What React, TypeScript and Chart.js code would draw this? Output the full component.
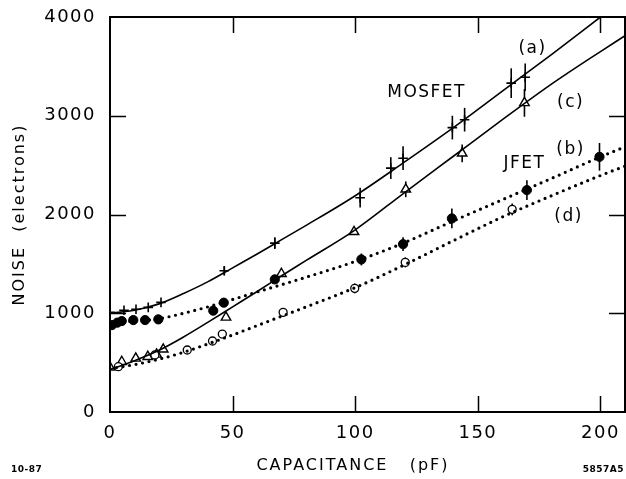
import React, { useEffect, useRef } from 'react';
import { Chart, registerables } from 'chart.js';

Chart.register(...registerables);

// Axis ticks
const X_TICKS = [0, 50, 100, 150, 200];
const Y_TICKS = [0, 1000, 2000, 3000, 4000];

// (a) MOSFET measured points (crosses)
const A_CAP = [0, 5.7, 10.6, 15.6, 20.8, 46.6, 67.2, 102, 114.5, 119.5, 139.6, 144.6, 163.6, 169.3];
const A_NOISE = [1010, 1030, 1040, 1060, 1110, 1430, 1710, 2170, 2470, 2570, 2880, 2960, 3330, 3390];
const A_ERR = [0, 0, 0, 0, 0, 45, 60, 100, 110, 120, 120, 120, 150, 140];

// (c) MOSFET measured points (open triangles)
const C_CAP = [0, 4.8, 10.5, 15.4, 19, 21.7, 47.3, 69.9, 99.5, 120.6, 143.6, 169];
const C_NOISE = [452, 509, 543, 560, 584, 635, 958, 1400, 1825, 2255, 2620, 3130];
const C_ERR = [0, 0, 0, 0, 0, 0, 0, 0, 0, 80, 90, 140];

// (b) JFET measured points (filled circles)
const B_CAP = [0.8, 3, 4.8, 9.5, 14.3, 19.7, 42.1, 46.4, 67.2, 102.5, 119.5, 139.4, 170, 199.6];
const B_NOISE = [880, 905, 921, 931, 931, 938, 1026, 1107, 1343, 1545, 1700, 1960, 2247, 2584];
const B_ERR = [0, 0, 0, 0, 0, 0, 0, 0, 0, 60, 70, 100, 100, 140];

// (d) JFET measured points (open circles)
const D_CAP = [3.4, 18.3, 31.5, 41.8, 45.8, 70.6, 99.8, 120.4, 164];
const D_NOISE = [459, 577, 628, 719, 789, 1009, 1252, 1515, 2052];
const D_ERR = [0, 0, 0, 0, 0, 0, 50, 50, 60];

// Fitted curves
const FIT_CAP = [0, 10, 20, 30, 40, 50, 60, 70, 80, 100, 120, 140, 160, 180, 200, 210];
const FIT_A = [1000, 1030, 1095, 1200, 1320, 1460, 1600, 1745, 1890, 2190, 2530, 2880, 3250, 3620, 4000, 4190];
const FIT_C = [430, 520, 625, 760, 910, 1065, 1220, 1380, 1535, 1845, 2220, 2590, 2960, 3320, 3650, 3810];
const FIT_B = [910, 920, 945, 1000, 1065, 1140, 1215, 1290, 1365, 1525, 1715, 1935, 2150, 2365, 2584, 2685];
const FIT_D = [440, 480, 535, 605, 690, 780, 875, 970, 1065, 1260, 1490, 1735, 1975, 2190, 2395, 2490];

// Curve labels (text, capacitance, noise)
const LABEL_TEXT = ['(a)', 'MOSFET', '(c)', '(b)', 'JFET', '(d)'];
const LABEL_CAP = [172.3, 129.1, 187.8, 187.8, 169, 187];
const LABEL_NOISE = [3684, 3239, 3138, 2662, 2520, 1984];

const X_TITLE = 'CAPACITANCE   (pF)';
const Y_TITLE = 'NOISE  (electrons)';
const NOTE_LEFT = '10-87';
const NOTE_RIGHT = '5857A5';

const FONT = '"DejaVu Sans", sans-serif';

const zip = (xs: number[], ys: number[]) => xs.map((x, i) => ({ x, y: ys[i] }));

const errorBarPlugin = {
  id: 'errorBars',
  beforeDatasetsDraw(chart: any) {
    const { ctx } = chart;
    const yScale = chart.scales.y;
    ctx.save();
    ctx.strokeStyle = '#000';
    ctx.lineWidth = 1.6;
    chart.data.datasets.forEach((ds: any, di: number) => {
      if (!ds.errors) return;
      const meta = chart.getDatasetMeta(di);
      meta.data.forEach((pt: any, i: number) => {
        const e = ds.errors[i];
        if (!e) return;
        const v = ds.data[i].y;
        const y1 = yScale.getPixelForValue(v + e);
        const y2 = yScale.getPixelForValue(v - e);
        ctx.beginPath();
        ctx.moveTo(pt.x, y1);
        ctx.lineTo(pt.x, y2);
        ctx.stroke();
      });
    });
    ctx.restore();
  },
};

const framePlugin = {
  id: 'frame',
  beforeDraw(chart: any) {
    chart.ctx.letterSpacing = '1.5px';
  },
  afterDraw(chart: any) {
    const { ctx, chartArea, scales } = chart;
    const { left, right, top, bottom } = chartArea;
    const xs = scales.x;
    const ys = scales.y;
    ctx.save();
    ctx.strokeStyle = '#000';
    ctx.lineWidth = 2;
    ctx.strokeRect(left, top, right - left, bottom - top);
    ctx.lineWidth = 1.5;
    const TL = 16;
    X_TICKS.forEach((v) => {
      if (v === 0) return;
      const px = Math.round(xs.getPixelForValue(v)) + 0.5;
      ctx.beginPath();
      ctx.moveTo(px, bottom);
      ctx.lineTo(px, bottom - TL);
      ctx.moveTo(px, top);
      ctx.lineTo(px, top + TL);
      ctx.stroke();
    });
    Y_TICKS.forEach((v) => {
      if (v === 0 || v === 4000) return;
      const py = Math.round(ys.getPixelForValue(v)) + 0.5;
      ctx.beginPath();
      ctx.moveTo(left, py);
      ctx.lineTo(left + TL, py);
      ctx.moveTo(right, py);
      ctx.lineTo(right - TL, py);
      ctx.stroke();
    });

    ctx.fillStyle = '#000';
    ctx.textAlign = 'center';
    ctx.textBaseline = 'middle';
    ctx.letterSpacing = '1.5px';
    ctx.font = `17px ${FONT}`;
    LABEL_TEXT.forEach((t, i) => {
      ctx.fillText(t, xs.getPixelForValue(LABEL_CAP[i]), ys.getPixelForValue(LABEL_NOISE[i]));
    });

    // axis titles
    ctx.letterSpacing = '2px';
    ctx.font = `16px ${FONT}`;
    ctx.fillText(X_TITLE, 353, 466);
    ctx.save();
    ctx.translate(20, (top + bottom) / 2);
    ctx.rotate(-Math.PI / 2);
    ctx.fillText(Y_TITLE, 0, 0);
    ctx.restore();

    // corner notes
    ctx.letterSpacing = '0.5px';
    ctx.font = `bold 9px ${FONT}`;
    ctx.textAlign = 'left';
    ctx.fillText(NOTE_LEFT, 11, 470);
    ctx.textAlign = 'right';
    ctx.fillText(NOTE_RIGHT, chart.width - 2, 470);
    ctx.restore();
    ctx.letterSpacing = '0px';
  },
};

const noPad = (s: any) => {
  s.paddingTop = 0;
  s.paddingBottom = 0;
  s.paddingLeft = 0;
  s.paddingRight = 0;
};

export default function App() {
  const ref = useRef<HTMLCanvasElement | null>(null);

  useEffect(() => {
    if (!ref.current) return;
    const solid = { showLine: true, pointRadius: 0, borderColor: '#000', borderWidth: 1.6, cubicInterpolationMode: 'monotone' as const, fill: false };
    const dotted = { ...solid, borderWidth: 3.2, borderDash: [0, 6.6], borderCapStyle: 'round' as const };
    const chart = new Chart(ref.current, {
      type: 'scatter',
      data: {
        datasets: [
          { label: 'fit (a)', data: zip(FIT_CAP, FIT_A), ...solid },
          { label: 'fit (c)', data: zip(FIT_CAP, FIT_C), ...solid },
          { label: 'fit (b)', data: zip(FIT_CAP, FIT_B), ...dotted },
          { label: 'fit (d)', data: zip(FIT_CAP, FIT_D), ...dotted },
          {
            label: '(d) JFET', data: zip(D_CAP, D_NOISE), errors: D_ERR, pointStyle: 'circle', pointRadius: 4,
            backgroundColor: '#fff', borderColor: '#000', borderWidth: 1.3,
          } as any,
          {
            label: '(b) JFET', data: zip(B_CAP, B_NOISE), errors: B_ERR, pointStyle: 'circle', pointRadius: 4.6,
            backgroundColor: '#000', borderColor: '#000', borderWidth: 1,
          } as any,
          {
            label: '(c) MOSFET', data: zip(C_CAP, C_NOISE), errors: C_ERR, pointStyle: 'triangle', pointRadius: 5.5,
            backgroundColor: '#fff', borderColor: '#000', borderWidth: 1.4,
          } as any,
          {
            label: '(a) MOSFET', data: zip(A_CAP, A_NOISE), errors: A_ERR, pointStyle: 'cross', pointRadius: 4.8,
            backgroundColor: '#000', borderColor: '#000', borderWidth: 1.6,
          } as any,
        ],
      },
      options: {
        responsive: false,
        animation: false,
        devicePixelRatio: 1,
        layout: { autoPadding: false, padding: { left: 0, right: 1, top: 17, bottom: 0 } },
        plugins: { legend: { display: false }, tooltip: { enabled: false } },
        scales: {
          x: {
            type: 'linear', min: 0, max: 210,
            grid: { display: false, drawTicks: false },
            border: { display: false },
            afterBuildTicks: (s: any) => { s.ticks = X_TICKS.map((v) => ({ value: v })); },
            afterFit: (s: any) => { s.height = 67; noPad(s); },
            ticks: { color: '#000', padding: 11, font: { family: FONT, size: 18 }, maxRotation: 0, callback: (v: any) => String(v) },
          },
          y: {
            type: 'linear', min: 0, max: 4000,
            grid: { display: false, drawTicks: false },
            border: { display: false },
            afterBuildTicks: (s: any) => { s.ticks = Y_TICKS.map((v) => ({ value: v })); },
            afterFit: (s: any) => { s.width = 110; noPad(s); },
            ticks: { color: '#000', padding: 14, font: { family: FONT, size: 18 }, callback: (v: any) => String(v) },
          },
        },
      },
      plugins: [errorBarPlugin, framePlugin],
    });
    return () => chart.destroy();
  }, []);

  return (
    <div style={{ position: 'fixed', left: 0, top: 0, width: 626, height: 479, background: '#fff' }}>
      <canvas ref={ref} width={626} height={479} />
    </div>
  );
}
